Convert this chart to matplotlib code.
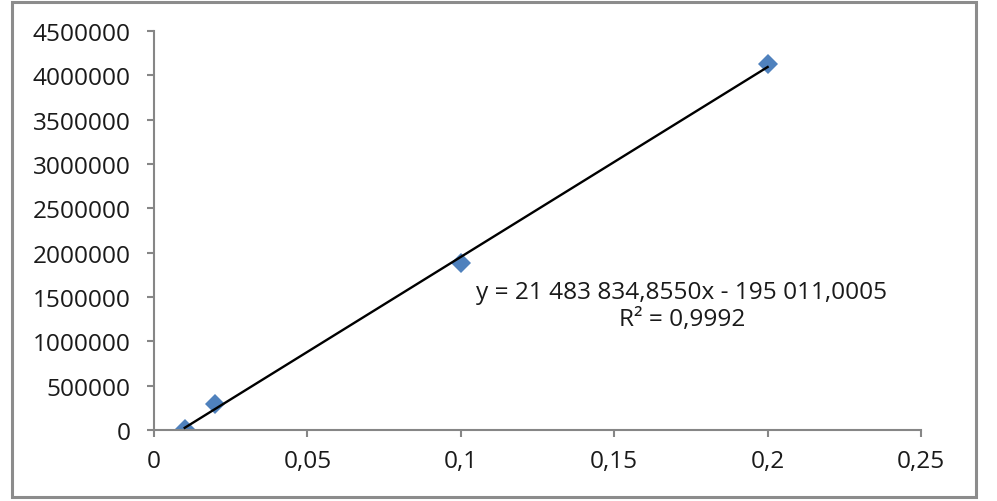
import numpy as np
import matplotlib.pyplot as plt
from matplotlib.patches import Rectangle

plt.rcParams.update({"font.family": ["Open Sans", "DejaVu Sans"]})
plt.rcParams.update({"font.size": 17.6})

# data
conc = [0.01, 0.02, 0.1, 0.2]
signal = [10000, 295000, 1880000, 4125000]
x_ticks = [0, 0.05, 0.1, 0.15, 0.2, 0.25]
x_labels = ["0", "0,05", "0,1", "0,15", "0,2", "0,25"]
y_ticks = [0, 500000, 1000000, 1500000, 2000000, 2500000, 3000000, 3500000, 4000000, 4500000]
eq_text = "y = 21 483 834,8550x - 195 011,0005\nR² = 0,9992"

grey = "#868686"
blue = "#4F81BD"

fig = plt.figure(figsize=(9.97, 5.02), dpi=100)
ax = fig.add_axes([0.1545, 0.1414, 0.7693, 0.7949])

# linear trendline over data range
k, b = np.polyfit(conc, signal, 1)
xs = np.array([min(conc), max(conc)])
ax.plot(xs, k * xs + b, color="black", linewidth=1.7, zorder=3)
ax.plot(conc, signal, "D", color=blue, markersize=10, markeredgewidth=0, zorder=2)

ax.set_xlim(0, 0.25)
ax.set_ylim(0, 4500000)
ax.set_xticks(x_ticks)
ax.set_xticklabels(x_labels)
ax.set_yticks(y_ticks)
ax.set_yticklabels([str(v) for v in y_ticks])

for side in ["top", "right"]:
    ax.spines[side].set_visible(False)
for side in ["left", "bottom"]:
    ax.spines[side].set_color(grey)
    ax.spines[side].set_linewidth(1.5)
ax.tick_params(axis="both", direction="out", length=5, width=1.5, color=grey,
               labelcolor="#1a1a1a")
ax.tick_params(axis="x", pad=9)
ax.tick_params(axis="y", pad=12)

ax.text(0.172, 1690000, eq_text, ha="center", va="top", color="#1a1a1a",
        linespacing=1.15, multialignment="center")

fig.patches.append(Rectangle((0.012, 0.008), 0.967, 0.986, transform=fig.transFigure,
                             fill=False, edgecolor="#8c8c8c", linewidth=2.2))

fig.savefig("out.png", dpi=100)
